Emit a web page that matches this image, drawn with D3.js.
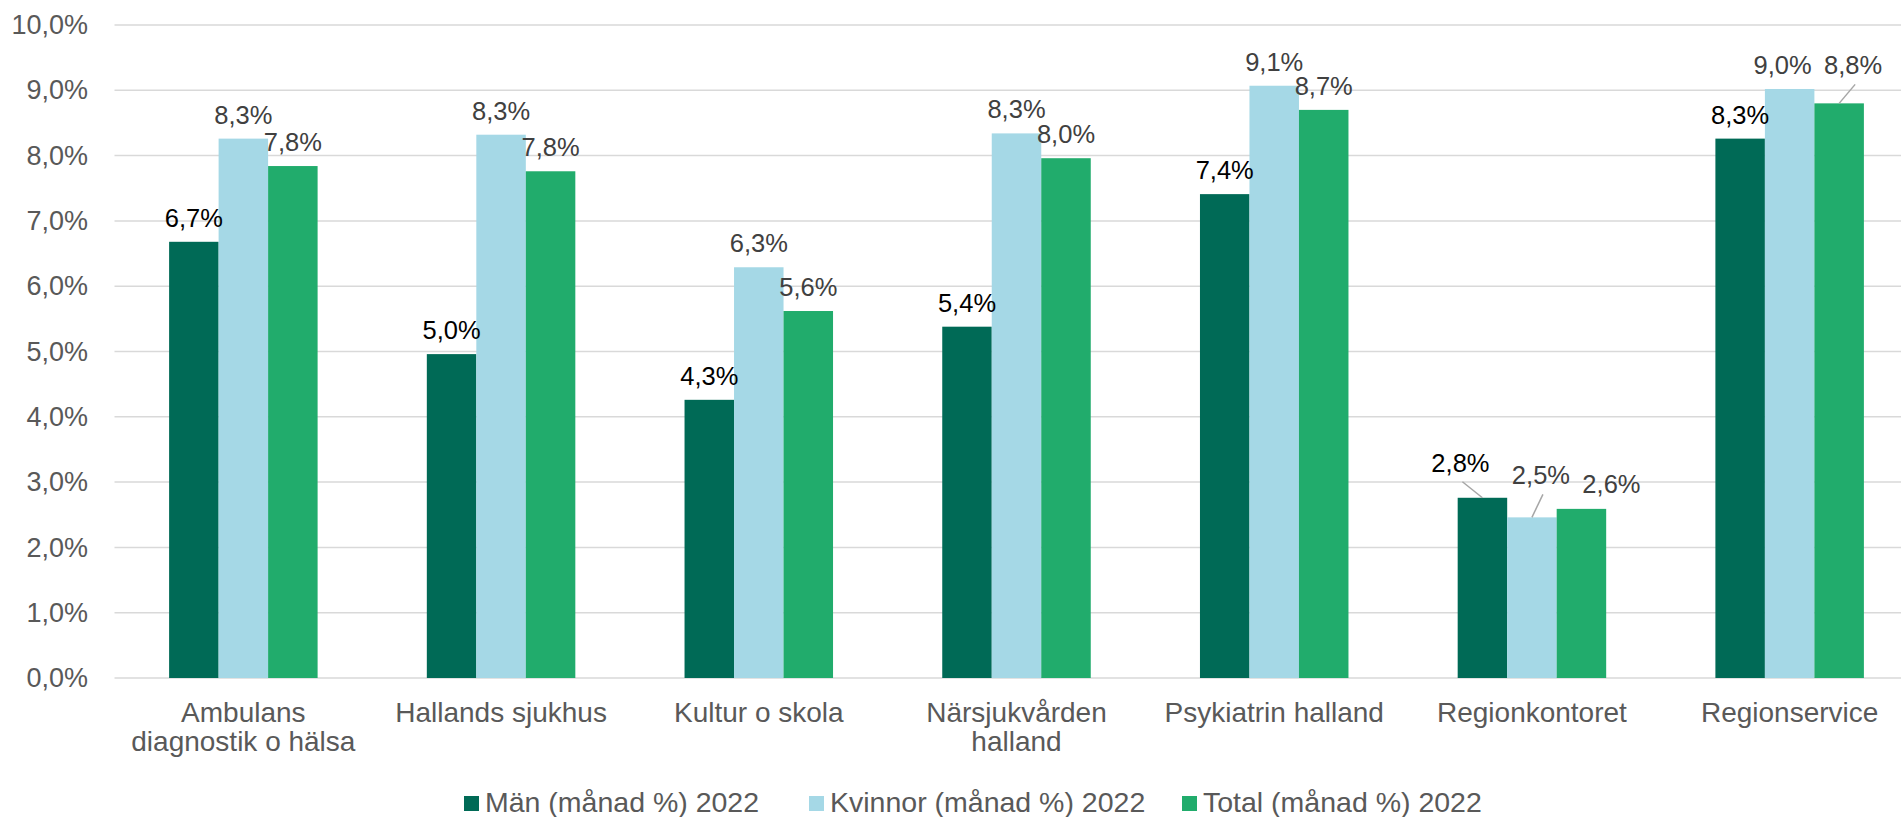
<!DOCTYPE html>
<html>
<head>
<meta charset="utf-8">
<script src="https://cdn.jsdelivr.net/npm/d3@7"></script>
<style>
html,body{margin:0;padding:0;background:#fff;overflow:hidden;}
text{font-family:"Liberation Sans",Arial,sans-serif;}
</style>
</head>
<body>
<svg id="chart" width="1901" height="817"></svg>
<script>
const categories = [
  ["Ambulans","diagnostik o hälsa"],
  ["Hallands sjukhus"],
  ["Kultur o skola"],
  ["Närsjukvården","halland"],
  ["Psykiatrin halland"],
  ["Regionkontoret"],
  ["Regionservice"]
];
const seriesNames = ["Män (månad %) 2022","Kvinnor (månad %) 2022","Total (månad %) 2022"];
const man     = [6.68, 4.96, 4.26, 5.38, 7.41, 2.76, 8.26];
const kvinnor = [8.26, 8.32, 6.29, 8.34, 9.07, 2.46, 9.02];
const total   = [7.84, 7.76, 5.62, 7.96, 8.70, 2.59, 8.80];
const yTicks  = [0,1,2,3,4,5,6,7,8,9,10];

const colors = ["#006a56","#a5d8e6","#21ac6c"];
const labelColors = ["#000000","#404040","#404040"];
const series = [man, kvinnor, total];

const labelAdjust = {
  "5-0": {dx:-22, off:26, leader:true},
  "5-1": {dx:9, off:33, leader:true},
  "5-2": {dx:30, off:16, leader:false},
  "6-1": {dx:-7, off:15, leader:false},
  "6-2": {dx:14, off:29, leader:true}
};

const svg = d3.select("#chart");
const plotLeft = 114.5, plotRight = 1918.5, plotTop = 25, plotBottom = 678;

const x0 = d3.scaleBand().domain(d3.range(categories.length)).range([plotLeft, plotRight]).paddingInner(0).paddingOuter(0);
const groupW = 148.5;
const x1 = d3.scaleBand().domain(d3.range(3))
  .range([(x0.bandwidth()-groupW)/2, (x0.bandwidth()+groupW)/2]).padding(0);
const y = d3.scaleLinear().domain([0,10]).range([plotBottom, plotTop]);

const fmt = v => v.toFixed(1).replace(".", ",") + "%";

svg.append("g").selectAll("line").data(yTicks).join("line")
  .attr("x1", plotLeft).attr("x2", 1901)
  .attr("y1", d => y(d)).attr("y2", d => y(d))
  .attr("stroke", "#d9d9d9").attr("stroke-width", 1.5);

const yAxis = d3.axisLeft(y).tickValues(yTicks).tickSize(0).tickPadding(0)
  .tickFormat(d => d.toFixed(1).replace(".", ",") + "%");
const ya = svg.append("g").attr("transform", `translate(88,0)`).call(yAxis);
ya.select(".domain").remove();
ya.selectAll("text").attr("fill", "#595959").style("font-size", "27px")
  .style("font-family", '"Liberation Sans",Arial,sans-serif');

const bars = [];
categories.forEach((c, i) => {
  series.forEach((s, j) => {
    bars.push({i, j, v: s[i]});
  });
});
svg.append("g").selectAll("rect").data(bars).join("rect")
  .attr("x", d => x0(d.i) + x1(d.j))
  .attr("width", x1.bandwidth())
  .attr("y", d => y(d.v))
  .attr("height", d => y(0) - y(d.v))
  .attr("fill", d => colors[d.j]);

const lg = svg.append("g");
bars.forEach(d => {
  const cx = x0(d.i) + x1(d.j) + x1.bandwidth()/2;
  const topY = y(d.v);
  const adj = labelAdjust[d.i + "-" + d.j] || {dx:0, off:15, leader:false};
  const lx = cx + adj.dx, ly = topY - adj.off;
  if (adj.leader) {
    lg.append("line")
      .attr("x1", lx + 2).attr("y1", ly + 10)
      .attr("x2", cx).attr("y2", topY)
      .attr("stroke", "#a6a6a6").attr("stroke-width", 1.5);
  }
  lg.append("text")
    .attr("x", lx).attr("y", ly)
    .attr("text-anchor", "middle")
    .attr("fill", labelColors[d.j])
    .style("font-size", "25.5px")
    .text(fmt(d.v));
});

const cg = svg.append("g");
categories.forEach((lines, i) => {
  const cx = x0(i) + x0.bandwidth()/2;
  const t = cg.append("text").attr("text-anchor", "middle")
    .attr("fill", "#595959").style("font-size", "28px");
  lines.forEach((ln, k) => {
    t.append("tspan").attr("x", cx).attr("y", 722 + k*29).text(ln);
  });
});

const legX = [464, 809, 1182];
const leg = svg.append("g");
seriesNames.forEach((n, j) => {
  leg.append("rect").attr("x", legX[j]).attr("y", 796)
    .attr("width", 15).attr("height", 15).attr("fill", colors[j]);
  leg.append("text").attr("x", legX[j] + 21).attr("y", 812)
    .attr("fill", "#595959").style("font-size", "28.5px").text(n);
});
</script>
</body>
</html>
